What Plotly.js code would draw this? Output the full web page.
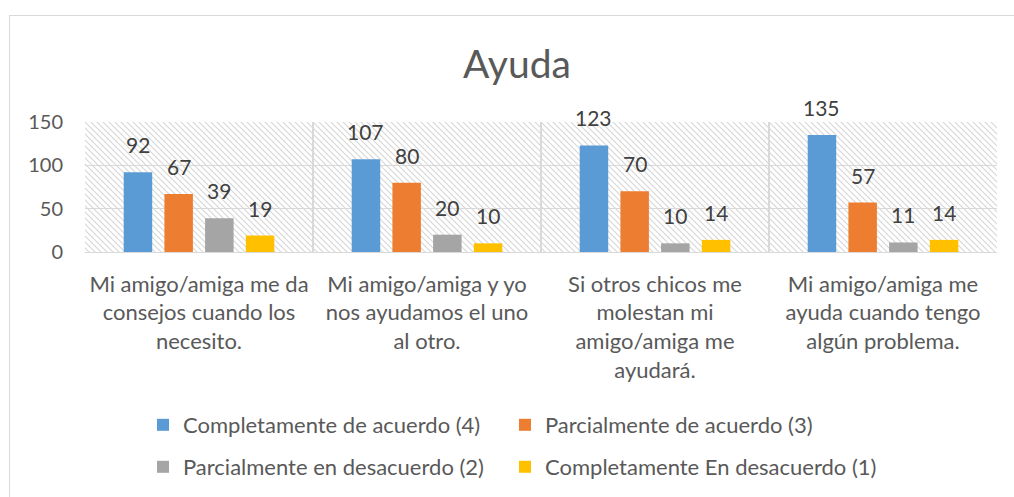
<!DOCTYPE html>
<html>
<head>
<meta charset="utf-8">
<script src="https://cdn.plot.ly/plotly-3.0.1.min.js"></script>
<style>
html,body{margin:0;padding:0;background:#fff;}
#wrap{position:relative;width:1014px;height:497px;overflow:hidden;}
#chart{width:1014px;height:497px;}
#frame{position:absolute;left:9px;top:15px;width:1100px;height:600px;border-left:1.5px solid #d9d9d9;border-top:1.5px solid #d9d9d9;pointer-events:none;}
</style>
</head>
<body>
<div id="wrap"><div id="chart"></div><div id="frame"></div></div>
<script>
const categories = [
  "Mi amigo/amiga me da<br>consejos cuando los<br>necesito.",
  "Mi amigo/amiga y yo<br>nos ayudamos el uno<br>al otro.",
  "Si otros chicos me<br>molestan mi<br>amigo/amiga me<br>ayudará.",
  "Mi amigo/amiga me<br>ayuda cuando tengo<br>algún problema."
];
const seriesNames = [
  "Completamente de acuerdo (4)",
  "Parcialmente de acuerdo (3)",
  "Parcialmente en desacuerdo (2)",
  "Completamente En desacuerdo (1)"
];
const completamenteAcuerdo = [92, 107, 123, 135];
const parcialmenteAcuerdo = [67, 80, 70, 57];
const parcialmenteDesacuerdo = [39, 20, 10, 11];
const completamenteDesacuerdo = [19, 10, 14, 14];
const seriesValues = [completamenteAcuerdo, parcialmenteAcuerdo, parcialmenteDesacuerdo, completamenteDesacuerdo];
const colors = ["#5b9bd5", "#ed7d31", "#a5a5a5", "#ffc000"];
const yTicks = [0, 50, 100, 150];

const FONT = "Lato, 'Open Sans', sans-serif";
const W = 1014, H = 497;
const margin = {l: 85, r: 17, t: 122, b: 245};
const bargap = 0.286, bargroupgap = 0.3;
const plotW = W - margin.l - margin.r;
const plotH = H - margin.t - margin.b;
const catW = plotW / categories.length;
const pitch = catW * (1 - bargap) / seriesValues.length;

// legend slot for each series: blue / orange on first row, gray / yellow on second
const legendIds = ["legend", "legend3", "legend2", "legend4"];

const traces = seriesValues.map((vals, i) => ({
  type: "bar",
  name: seriesNames[i],
  x: categories,
  y: vals,
  marker: {color: colors[i]},
  legend: legendIds[i],
  hoverinfo: "none"
}));

const annotations = [];
seriesValues.forEach((vals, i) => {
  vals.forEach((v, j) => {
    annotations.push({
      x: categories[j], y: v, xref: "x", yref: "y",
      text: String(v), showarrow: false,
      yanchor: "bottom", xanchor: "center",
      xshift: (i - (seriesValues.length - 1) / 2) * pitch,
      yshift: 13,
      font: {family: FONT, size: 21, color: "#404040"}
    });
  });
});

// hatch background pattern
const svg = `<svg xmlns="http://www.w3.org/2000/svg" width="${plotW}" height="${plotH}" viewBox="0 0 ${plotW} ${plotH}">
<defs><pattern id="p" patternUnits="userSpaceOnUse" width="6" height="6">
<path d="M-1,-1 L7,7 M-1,5 L1,7 M5,-1 L7,1" stroke="#d6d6d6" stroke-width="1.1"/></pattern></defs>
<rect width="100%" height="100%" fill="url(#p)"/></svg>`;

const legendCommon = {
  orientation: "h",
  xref: "container", yref: "container",
  xanchor: "left", yanchor: "middle",
  font: {family: FONT, size: 22, color: "#595959"},
  bgcolor: "rgba(0,0,0,0)",
  itemclick: false, itemdoubleclick: false
};
const col1 = 143 / W, col2 = 505 / W;
const row1 = 1 - 425 / H, row2 = 1 - 467 / H;

const layout = {
  width: W, height: H,
  margin: margin,
  paper_bgcolor: "rgba(0,0,0,0)",
  plot_bgcolor: "rgba(0,0,0,0)",
  font: {family: FONT, size: 20, color: "#595959"},
  title: {
    text: "Ayuda",
    font: {family: FONT, size: 39, color: "#595959"},
    x: 517 / W, xanchor: "center", xref: "container",
    y: 1 - 64 / H, yanchor: "middle", yref: "container"
  },
  barmode: "group",
  bargap: bargap,
  bargroupgap: bargroupgap,
  xaxis: {
    type: "category",
    tickson: "boundaries",
    ticks: "",
    showgrid: true,
    gridcolor: "#d9d9d9",
    gridwidth: 1.3,
    showline: true,
    linecolor: "#d9d9d9",
    linewidth: 1.3,
    tickfont: {family: FONT, size: 22, color: "#595959"},
    ticklabelstandoff: 12,
    fixedrange: true
  },
  yaxis: {
    range: [0, 150],
    tickvals: yTicks,
    ticktext: yTicks.map(String),
    showgrid: true,
    gridcolor: "#d9d9d9",
    gridwidth: 1.3,
    zeroline: false,
    showline: false,
    ticks: "",
    tickfont: {family: FONT, size: 20, color: "#595959"},
    ticklabelstandoff: 21,
    fixedrange: true
  },
  images: [{
    source: "data:image/svg+xml;charset=utf-8," + encodeURIComponent(svg),
    xref: "paper", yref: "paper",
    x: 0, y: 1, sizex: 1, sizey: 1,
    xanchor: "left", yanchor: "top",
    sizing: "stretch", layer: "below"
  }],
  annotations: annotations,
  showlegend: true,
  legend: Object.assign({}, legendCommon, {x: col1, y: row1}),
  legend2: Object.assign({}, legendCommon, {x: col1, y: row2}),
  legend3: Object.assign({}, legendCommon, {x: col2, y: row1}),
  legend4: Object.assign({}, legendCommon, {x: col2, y: row2})
};

Plotly.newPlot("chart", traces, layout, {displayModeBar: false, staticPlot: true});
</script>
</body>
</html>
